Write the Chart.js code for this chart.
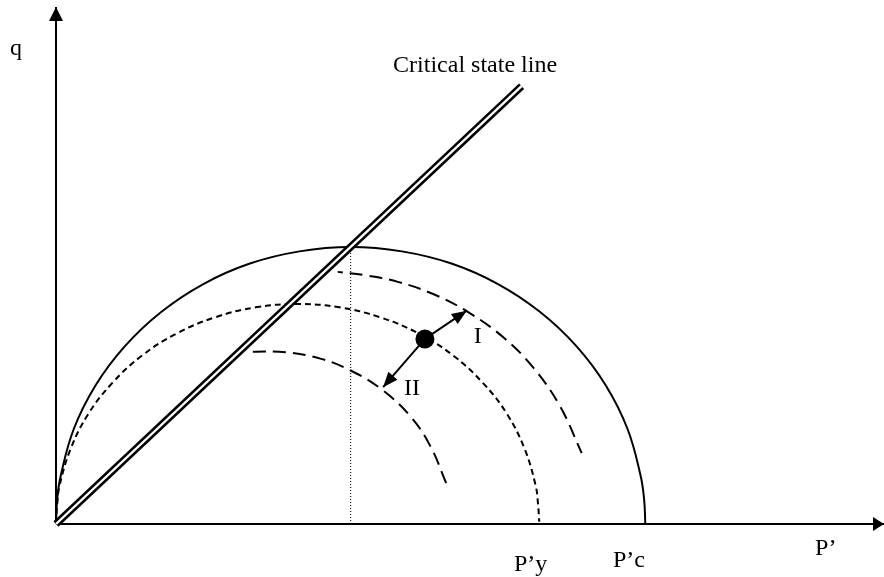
<!DOCTYPE html>
<html>
<head>
<meta charset="utf-8">
<title>Critical state line</title>
<script src="https://cdn.jsdelivr.net/npm/chart.js@4.4.1/dist/chart.umd.min.js"></script>
<style>
  html, body { margin: 0; padding: 0; background: #fff; }
  #wrap { width: 884px; height: 577px; position: relative; }
</style>
</head>
<body>
<div id="wrap"><canvas id="cslchart"></canvas></div>
<script>
const cslChart = document.getElementById("cslchart");

// yield surface through P'c (solid)
const yieldP = [0, 0.02, 0.08, 0.30, 0.67, 1.17, 1.79, 2.50, 3.29, 4.13, 5.00, 5.87, 6.71, 7.50, 8.21, 8.83, 9.33, 9.70, 9.92, 9.98, 10.00];
const yieldQ = [0, 0.44, 0.87, 1.71, 2.50, 3.21, 3.83, 4.33, 4.70, 4.92, 5.00, 4.92, 4.70, 4.33, 3.83, 3.21, 2.50, 1.71, 0.87, 0.44, 0];

// current yield surface through P'y (short dashes)
const currentP = [0, 0.02, 0.06, 0.25, 0.55, 0.96, 1.46, 2.05, 2.70, 3.39, 4.10, 4.81, 5.50, 6.15, 6.74, 7.24, 7.65, 7.95, 8.14, 8.18, 8.20];
const currentQ = [0, 0.35, 0.69, 1.36, 1.99, 2.55, 3.04, 3.44, 3.73, 3.91, 3.97, 3.91, 3.73, 3.44, 3.04, 2.55, 1.99, 1.36, 0.69, 0.35, 0.04];

// expanded surface, path I
const outerP = [4.78, 5.30, 5.80, 6.40, 7.00, 7.60, 8.10, 8.55, 8.92];
const outerQ = [4.55, 4.48, 4.37, 4.15, 3.82, 3.36, 2.82, 2.13, 1.28];

// shrunk surface, path II
const innerP = [3.34, 3.90, 4.50, 5.00, 5.50, 6.00, 6.35, 6.62];
const innerQ = [3.11, 3.10, 2.98, 2.77, 2.45, 1.96, 1.41, 0.74];

// critical state line
const cslP = [0, 7.9];
const cslQ = [0, 7.9];

// stress state and the two load directions
const stateP = [6.26];
const stateQ = [3.34];
const pathIP = [6.26, 6.97];
const pathIQ = [3.34, 3.85];
const pathIIP = [6.26, 5.55];
const pathIIQ = [3.34, 2.47];

// top of the P'c surface
const peakP = [5, 5];
const peakQ = [0, 5];

const pMax = 14.05;
const qMax = 9.33;

const texts = [
    { text: "q", p: -0.78, q: 8.47 },
    { text: "Critical state line", p: 5.72, q: 8.16 },
    { text: "I", p: 7.09, q: 3.27 },
    { text: "II", p: 5.905, q: 2.33 },
    { text: "P\u2019y", p: 7.77, q: -0.85 },
    { text: "P\u2019c", p: 9.45, q: -0.78 },
    { text: "P\u2019", p: 12.88, q: -0.56 }
];

function pts(xs, ys) {
    return xs.map((x, i) => ({ x: x, y: ys[i] }));
}

// filled arrow heads at the last point of a dataset
const arrowHeads = {
    id: "arrowHeads",
    afterDatasetsDraw(chart) {
        const ctx = chart.ctx;
        chart.data.datasets.forEach((ds, i) => {
            if (!ds.arrow) return;
            const els = chart.getDatasetMeta(i).data;
            const a = els[els.length - 2];
            const b = els[els.length - 1];
            const ang = Math.atan2(b.y - a.y, b.x - a.x);
            ctx.save();
            ctx.translate(b.x, b.y);
            ctx.rotate(ang);
            ctx.beginPath();
            ctx.moveTo(0, 0);
            ctx.lineTo(-ds.arrow[0], -ds.arrow[1] / 2);
            ctx.lineTo(-ds.arrow[0], ds.arrow[1] / 2);
            ctx.closePath();
            ctx.fillStyle = "#000";
            ctx.fill();
            ctx.restore();
        });
    }
};

const plotText = {
    id: "plotText",
    afterDraw(chart) {
        const ctx = chart.ctx;
        const x = chart.scales.x;
        const y = chart.scales.y;
        ctx.save();
        ctx.font = '24px "Liberation Serif", "Times New Roman", serif';
        ctx.fillStyle = "#000";
        ctx.textAlign = "left";
        ctx.textBaseline = "alphabetic";
        texts.forEach(t => {
            ctx.fillText(t.text, x.getPixelForValue(t.p), y.getPixelForValue(t.q));
        });
        ctx.restore();
    }
};

const line = (data, extra) => Object.assign({
    data: data,
    borderColor: "#000",
    borderWidth: 2,
    pointRadius: 0,
    fill: false,
    clip: false,
    tension: 0
}, extra);

const cslChartInstance = new Chart(cslChart, {
    type: "line",
    data: {
        datasets: [
            line(pts(stateP, stateQ), { order: 0, showLine: false, pointRadius: 9.5, pointBackgroundColor: "#000", pointBorderWidth: 0 }),
            line(pts(cslP, cslQ), { order: 1, borderColor: "#fff", borderWidth: 2.4, borderCapStyle: "butt" }),
            line(pts(cslP, cslQ), { order: 2, borderWidth: 7.4, borderCapStyle: "butt" }),
            line(pts(pathIP, pathIQ), { order: 3, arrow: [15, 12] }),
            line(pts(pathIIP, pathIIQ), { order: 3, arrow: [15, 12] }),
            line(pts(yieldP, yieldQ), { order: 4, tension: 0.4 }),
            line(pts(currentP, currentQ), { order: 4, tension: 0.4, borderDash: [6, 4] }),
            line(pts(outerP, outerQ), { order: 4, tension: 0.4, borderDash: [13, 7], borderDashOffset: 8 }),
            line(pts(innerP, innerQ), { order: 4, tension: 0.4, borderDash: [13, 7] }),
            line(pts(peakP, peakQ), { order: 5, borderWidth: 1, borderDash: [1, 2] }),
            // axes
            line(pts([0, pMax], [0, 0]), { order: 6, arrow: [11, 14] }),
            line(pts([0, 0], [0, qMax]), { order: 6, arrow: [14, 14] })
        ]
    },
    options: {
        responsive: true,
        maintainAspectRatio: false,
        animation: false,
        devicePixelRatio: 1,
        layout: { autoPadding: false, padding: { left: 56, right: 0, top: 7, bottom: 53 } },
        plugins: {
            legend: { display: false },
            tooltip: { enabled: false },
            title: { display: false }
        },
        scales: {
            x: { type: "linear", min: 0, max: pMax, display: false },
            y: { type: "linear", min: 0, max: qMax, display: false }
        }
    },
    plugins: [arrowHeads, plotText]
});
</script>
</body>
</html>
